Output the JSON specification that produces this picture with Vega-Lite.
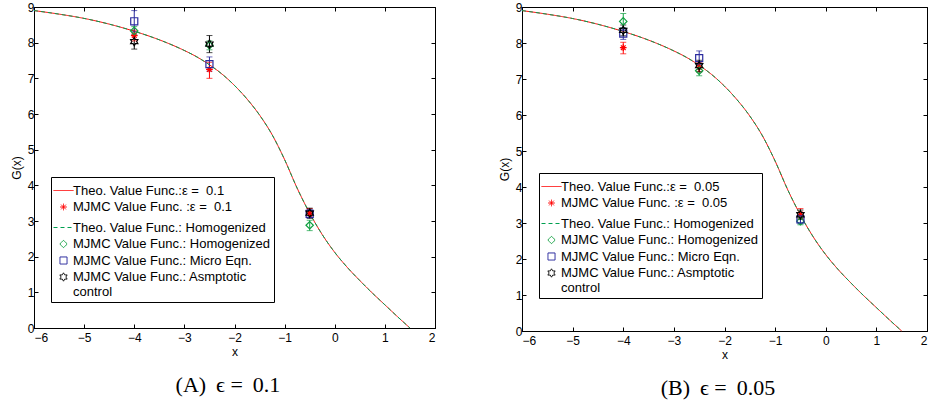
{
  "$schema": "https://vega.github.io/schema/vega-lite/v6.json",
  "padding": {"left": 9, "top": 0, "right": 0, "bottom": 0},
  "background": "white",
  "config": {
    "view": {"stroke": "black", "strokeWidth": 1},
    "font": "Liberation Sans",
    "axis": {"labelFont": "Liberation Sans", "labelFontSize": 12, "titleFont": "Liberation Sans", "titleFontSize": 12, "titleFontWeight": "normal", "domainColor": "black", "tickColor": "black", "labelColor": "black", "titleColor": "black", "grid": false, "tickSize": -4, "labelPadding": 4},
    "legend": {"orient": "none", "fillColor": "white", "strokeColor": "black", "padding": 3, "labelFont": "Liberation Sans", "labelFontSize": 13, "labelColor": "black", "labelLimit": 400, "rowPadding": 2.5, "symbolSize": 64, "symbolOffset": -1, "labelOffset": -1, "symbolStrokeWidth": 1, "symbolFillColor": "transparent"}
  },
  "datasets": {
    "curve": [
      {"x": -6, "G": 8.9}, {"x": -5.5, "G": 8.8}, {"x": -5, "G": 8.68}, {"x": -4.5, "G": 8.52}, {"x": -4, "G": 8.32},
      {"x": -3.5, "G": 8.08}, {"x": -3, "G": 7.78}, {"x": -2.75, "G": 7.6}, {"x": -2.5, "G": 7.38}, {"x": -2.25, "G": 7.12},
      {"x": -2, "G": 6.8}, {"x": -1.75, "G": 6.42}, {"x": -1.5, "G": 5.97}, {"x": -1.25, "G": 5.42}, {"x": -1, "G": 4.72},
      {"x": -0.75, "G": 3.92}, {"x": -0.5, "G": 3.22}, {"x": -0.25, "G": 2.62}, {"x": 0, "G": 2.12}, {"x": 0.25, "G": 1.7},
      {"x": 0.5, "G": 1.33}, {"x": 0.75, "G": 0.98}, {"x": 1, "G": 0.65}, {"x": 1.25, "G": 0.32}, {"x": 1.5, "G": 0}
    ],
    "ptsA": [
      {"series": "MJMC Value Func. :ε =\u00a0 0.1", "x": -4, "y": 8.2, "lo": 8.05, "hi": 8.35},
      {"series": "MJMC Value Func. :ε =\u00a0 0.1", "x": -2.5, "y": 7.25, "lo": 7.0, "hi": 7.45},
      {"series": "MJMC Value Func. :ε =\u00a0 0.1", "x": -0.5, "y": 3.22, "lo": 3.1, "hi": 3.35},
      {"series": "MJMC Value Func.: Homogenized", "x": -4, "y": 8.33, "lo": 8.2, "hi": 8.45},
      {"series": "MJMC Value Func.: Homogenized", "x": -2.5, "y": 7.93, "lo": 7.8, "hi": 8.05},
      {"series": "MJMC Value Func.: Homogenized", "x": -0.5, "y": 2.88, "lo": 2.73, "hi": 3.02},
      {"series": "MJMC Value Func.: Micro Eqn.", "x": -4, "y": 8.6, "lo": 8.3, "hi": 8.9},
      {"series": "MJMC Value Func.: Micro Eqn.", "x": -2.5, "y": 7.4, "lo": 7.2, "hi": 7.6},
      {"series": "MJMC Value Func.: Micro Eqn.", "x": -0.5, "y": 3.2, "lo": 3.08, "hi": 3.32},
      {"series": "MJMC Value Func.: Asmptotic control", "x": -4, "y": 8.03, "lo": 7.82, "hi": 8.22},
      {"series": "MJMC Value Func.: Asmptotic control", "x": -2.5, "y": 7.96, "lo": 7.72, "hi": 8.2},
      {"series": "MJMC Value Func.: Asmptotic control", "x": -0.5, "y": 3.22, "lo": 3.08, "hi": 3.36}
    ],
    "ptsB": [
      {"series": "MJMC Value Func. :ε =\u00a0 0.05", "x": -4, "y": 7.87, "lo": 7.7, "hi": 8.02},
      {"series": "MJMC Value Func. :ε =\u00a0 0.05", "x": -2.5, "y": 7.32, "lo": 7.2, "hi": 7.45},
      {"series": "MJMC Value Func. :ε =\u00a0 0.05", "x": -0.5, "y": 3.25, "lo": 3.12, "hi": 3.4},
      {"series": "MJMC Value Func.: Homogenized", "x": -4, "y": 8.6, "lo": 8.42, "hi": 8.82},
      {"series": "MJMC Value Func.: Homogenized", "x": -2.5, "y": 7.23, "lo": 7.09, "hi": 7.37},
      {"series": "MJMC Value Func.: Homogenized", "x": -0.5, "y": 3.05, "lo": 2.95, "hi": 3.15},
      {"series": "MJMC Value Func.: Micro Eqn.", "x": -4, "y": 8.26, "lo": 8.1, "hi": 8.42},
      {"series": "MJMC Value Func.: Micro Eqn.", "x": -2.5, "y": 7.58, "lo": 7.4, "hi": 7.78},
      {"series": "MJMC Value Func.: Micro Eqn.", "x": -0.5, "y": 3.1, "lo": 2.98, "hi": 3.22},
      {"series": "MJMC Value Func.: Asmptotic control", "x": -4, "y": 8.35, "lo": 8.2, "hi": 8.5},
      {"series": "MJMC Value Func.: Asmptotic control", "x": -2.5, "y": 7.37, "lo": 7.2, "hi": 7.52},
      {"series": "MJMC Value Func.: Asmptotic control", "x": -0.5, "y": 3.23, "lo": 3.1, "hi": 3.36}
    ]
  },
  "bounds": "flush",
  "spacing": 87,
  "resolve": {
    "scale": {"color": "independent", "shape": "independent", "size": "independent", "strokeDash": "independent"},
    "legend": {"color": "independent", "shape": "independent", "size": "independent", "strokeDash": "independent"}
  },
  "hconcat": [
    {
      "width": 401,
      "height": 321,
      "title": {"text": "(A) \u2009ϵ = \u20090.1", "orient": "bottom", "anchor": "middle", "frame": "bounds", "font": "Liberation Serif", "fontSize": 22, "fontWeight": "normal", "color": "black", "offset": 18, "dx": 5},
      "resolve": {"axis": {"x": "independent", "y": "independent"}},
      "layer": [
        {
          "data": {"name": "curve"},
          "mark": {"type": "line", "strokeWidth": 1, "interpolate": "monotone"},
          "encoding": {
            "x": {"field": "x", "type": "quantitative", "scale": {"domain": [-6, 2], "nice": false, "zero": false}, "axis": {"values": [-6, -5, -4, -3, -2, -1, 0, 1, 2], "title": "x", "titlePadding": 3, "labelPadding": 8}},
            "y": {"field": "G", "type": "quantitative", "scale": {"domain": [0, 9], "nice": false, "zero": false}, "axis": {"values": [0, 1, 2, 3, 4, 5, 6, 7, 8, 9], "title": "G(x)", "titlePadding": 4}},
            "color": {"datum": "Theo. Value Func.:ε =\u00a0 0.1", "type": "nominal", "title": null,
              "scale": {"domain": ["Theo. Value Func.:ε =\u00a0 0.1", "MJMC Value Func. :ε =\u00a0 0.1", "Theo. Value Func.: Homogenized", "MJMC Value Func.: Homogenized", "MJMC Value Func.: Micro Eqn.", "MJMC Value Func.: Asmptotic control"], "range": ["#ff0000", "#ff0000", "#00a050", "#10a040", "#2b2b9e", "#000000"]},
              "legend": {"legendX": 17, "legendY": 170,
                "labelExpr": "indexof(datum.label,'Asmptotic') >= 0 ? ['MJMC Value Func.: Asmptotic', 'control'] : datum.label",
                "encode": {"symbols": {"update": {
                  "shape": {"signal": "datum.index == 1 ? 'M-1,0L1,0M0,-1L0,1M-0.7,-0.7L0.7,0.7M-0.7,0.7L0.7,-0.7' : datum.index == 3 ? 'diamond' : datum.index == 4 ? 'square' : datum.index == 5 ? 'M0,-1L0.289,-0.5L0.866,-0.5L0.577,0L0.866,0.5L0.289,0.5L0,1L-0.289,0.5L-0.866,0.5L-0.577,0L-0.866,-0.5L-0.289,-0.5Z' : 'M-2.2,0L2.2,0'"},
                  "size": {"signal": "datum.index == 0 || datum.index == 2 ? 60 : datum.index == 5 ? 50 : 40"},
                  "strokeDash": {"signal": "datum.index == 2 ? [3, 2] : [1, 0]"},
                  "stroke": {"signal": "datum.index <= 1 ? '#ff0000' : datum.index <= 3 ? '#00a050' : datum.index == 4 ? '#2b2b9e' : '#000000'"},
                  "fill": {"value": "transparent"},
                  "fillOpacity": {"value": 0},
                  "strokeWidth": {"value": 1}
                }}}}},
            "strokeDash": {"datum": "Theo. Value Func.:ε =\u00a0 0.1", "type": "nominal", "legend": null,
              "scale": {"domain": ["Theo. Value Func.:ε =\u00a0 0.1", "MJMC Value Func. :ε =\u00a0 0.1", "Theo. Value Func.: Homogenized", "MJMC Value Func.: Homogenized", "MJMC Value Func.: Micro Eqn.", "MJMC Value Func.: Asmptotic control"], "range": [[1, 0], [1, 0], [4, 3], [1, 0], [1, 0], [1, 0]]}}
          }
        },
        {
          "data": {"name": "curve"},
          "mark": {"type": "line", "strokeWidth": 1, "interpolate": "monotone"},
          "encoding": {
            "x": {"field": "x", "type": "quantitative", "axis": null},
            "y": {"field": "G", "type": "quantitative", "axis": null},
            "color": {"datum": "Theo. Value Func.: Homogenized", "type": "nominal", "title": null},
            "strokeDash": {"datum": "Theo. Value Func.: Homogenized", "type": "nominal", "legend": null}
          }
        },
        {
          "data": {"name": "ptsA"},
          "mark": {"type": "rule", "strokeWidth": 1},
          "encoding": {
            "x": {"field": "x", "type": "quantitative", "axis": null},
            "y": {"field": "lo", "type": "quantitative", "axis": null},
            "y2": {"field": "hi"},
            "color": {"field": "series", "type": "nominal", "title": null}
          }
        },
        {
          "data": {"name": "ptsA"},
          "mark": {"type": "tick", "orient": "horizontal", "size": 6, "thickness": 1},
          "encoding": {
            "x": {"field": "x", "type": "quantitative", "axis": null},
            "y": {"field": "lo", "type": "quantitative", "axis": null},
            "color": {"field": "series", "type": "nominal", "title": null}
          }
        },
        {
          "data": {"name": "ptsA"},
          "mark": {"type": "tick", "orient": "horizontal", "size": 6, "thickness": 1},
          "encoding": {
            "x": {"field": "x", "type": "quantitative", "axis": null},
            "y": {"field": "hi", "type": "quantitative", "axis": null},
            "color": {"field": "series", "type": "nominal", "title": null}
          }
        },
        {
          "data": {"name": "ptsA"},
          "mark": {"type": "point", "filled": false, "strokeWidth": 1.2, "opacity": 1},
          "encoding": {
            "x": {"field": "x", "type": "quantitative", "axis": null},
            "y": {"field": "y", "type": "quantitative", "axis": null},
            "color": {"field": "series", "type": "nominal", "title": null},
            "shape": {"field": "series", "type": "nominal", "legend": null,
              "scale": {"domain": ["Theo. Value Func.:ε =\u00a0 0.1", "MJMC Value Func. :ε =\u00a0 0.1", "Theo. Value Func.: Homogenized", "MJMC Value Func.: Homogenized", "MJMC Value Func.: Micro Eqn.", "MJMC Value Func.: Asmptotic control"], "range": ["stroke", "M-1,0L1,0M0,-1L0,1M-0.7,-0.7L0.7,0.7M-0.7,0.7L0.7,-0.7", "stroke", "diamond", "square", "M0,-1L0.289,-0.5L0.866,-0.5L0.577,0L0.866,0.5L0.289,0.5L0,1L-0.289,0.5L-0.866,0.5L-0.577,0L-0.866,-0.5L-0.289,-0.5Z"]}},
            "size": {"field": "series", "type": "nominal", "legend": null,
              "scale": {"type": "ordinal", "domain": ["Theo. Value Func.:ε =\u00a0 0.1", "MJMC Value Func. :ε =\u00a0 0.1", "Theo. Value Func.: Homogenized", "MJMC Value Func.: Homogenized", "MJMC Value Func.: Micro Eqn.", "MJMC Value Func.: Asmptotic control"], "range": [400, 45, 400, 55, 50, 70]}}
          }
        },
        {
          "data": {"name": "curve"},
          "mark": {"type": "point", "opacity": 0},
          "encoding": {
            "x": {"field": "x", "type": "quantitative", "axis": {"orient": "top", "values": [-6, -5, -4, -3, -2, -1, 0, 1, 2], "labels": false, "title": null, "domain": false}},
            "y": {"field": "G", "type": "quantitative", "axis": {"orient": "right", "values": [0, 1, 2, 3, 4, 5, 6, 7, 8, 9], "labels": false, "title": null, "domain": false}}
          }
        }
      ]
    },
    {
      "width": 405,
      "height": 324,
      "title": {"text": "(B) \u2009ϵ = \u20090.05", "orient": "bottom", "anchor": "middle", "frame": "bounds", "font": "Liberation Serif", "fontSize": 22, "fontWeight": "normal", "color": "black", "offset": 18, "dx": 5},
      "resolve": {"axis": {"x": "independent", "y": "independent"}},
      "layer": [
        {
          "data": {"name": "curve"},
          "mark": {"type": "line", "strokeWidth": 1, "interpolate": "monotone"},
          "encoding": {
            "x": {"field": "x", "type": "quantitative", "scale": {"domain": [-6, 2], "nice": false, "zero": false}, "axis": {"values": [-6, -5, -4, -3, -2, -1, 0, 1, 2], "title": "x", "titlePadding": 3, "labelPadding": 8}},
            "y": {"field": "G", "type": "quantitative", "scale": {"domain": [0, 9], "nice": false, "zero": false}, "axis": {"values": [0, 1, 2, 3, 4, 5, 6, 7, 8, 9], "title": "G(x)", "titlePadding": 4}},
            "color": {"datum": "Theo. Value Func.:ε =\u00a0 0.05", "type": "nominal", "title": null,
              "scale": {"domain": ["Theo. Value Func.:ε =\u00a0 0.05", "MJMC Value Func. :ε =\u00a0 0.05", "Theo. Value Func.: Homogenized", "MJMC Value Func.: Homogenized", "MJMC Value Func.: Micro Eqn.", "MJMC Value Func.: Asmptotic control"], "range": ["#ff0000", "#ff0000", "#00a050", "#10a040", "#2b2b9e", "#000000"]},
              "legend": {"legendX": 17, "legendY": 166,
                "labelExpr": "indexof(datum.label,'Asmptotic') >= 0 ? ['MJMC Value Func.: Asmptotic', 'control'] : datum.label",
                "encode": {"symbols": {"update": {
                  "shape": {"signal": "datum.index == 1 ? 'M-1,0L1,0M0,-1L0,1M-0.7,-0.7L0.7,0.7M-0.7,0.7L0.7,-0.7' : datum.index == 3 ? 'diamond' : datum.index == 4 ? 'square' : datum.index == 5 ? 'M0,-1L0.289,-0.5L0.866,-0.5L0.577,0L0.866,0.5L0.289,0.5L0,1L-0.289,0.5L-0.866,0.5L-0.577,0L-0.866,-0.5L-0.289,-0.5Z' : 'M-2.2,0L2.2,0'"},
                  "size": {"signal": "datum.index == 0 || datum.index == 2 ? 60 : datum.index == 5 ? 50 : 40"},
                  "strokeDash": {"signal": "datum.index == 2 ? [3, 2] : [1, 0]"},
                  "stroke": {"signal": "datum.index <= 1 ? '#ff0000' : datum.index <= 3 ? '#00a050' : datum.index == 4 ? '#2b2b9e' : '#000000'"},
                  "fill": {"value": "transparent"},
                  "fillOpacity": {"value": 0},
                  "strokeWidth": {"value": 1}
                }}}}},
            "strokeDash": {"datum": "Theo. Value Func.:ε =\u00a0 0.05", "type": "nominal", "legend": null,
              "scale": {"domain": ["Theo. Value Func.:ε =\u00a0 0.05", "MJMC Value Func. :ε =\u00a0 0.05", "Theo. Value Func.: Homogenized", "MJMC Value Func.: Homogenized", "MJMC Value Func.: Micro Eqn.", "MJMC Value Func.: Asmptotic control"], "range": [[1, 0], [1, 0], [4, 3], [1, 0], [1, 0], [1, 0]]}}
          }
        },
        {
          "data": {"name": "curve"},
          "mark": {"type": "line", "strokeWidth": 1, "interpolate": "monotone"},
          "encoding": {
            "x": {"field": "x", "type": "quantitative", "axis": null},
            "y": {"field": "G", "type": "quantitative", "axis": null},
            "color": {"datum": "Theo. Value Func.: Homogenized", "type": "nominal", "title": null},
            "strokeDash": {"datum": "Theo. Value Func.: Homogenized", "type": "nominal", "legend": null}
          }
        },
        {
          "data": {"name": "ptsB"},
          "mark": {"type": "rule", "strokeWidth": 1},
          "encoding": {
            "x": {"field": "x", "type": "quantitative", "axis": null},
            "y": {"field": "lo", "type": "quantitative", "axis": null},
            "y2": {"field": "hi"},
            "color": {"field": "series", "type": "nominal", "title": null}
          }
        },
        {
          "data": {"name": "ptsB"},
          "mark": {"type": "tick", "orient": "horizontal", "size": 6, "thickness": 1},
          "encoding": {
            "x": {"field": "x", "type": "quantitative", "axis": null},
            "y": {"field": "lo", "type": "quantitative", "axis": null},
            "color": {"field": "series", "type": "nominal", "title": null}
          }
        },
        {
          "data": {"name": "ptsB"},
          "mark": {"type": "tick", "orient": "horizontal", "size": 6, "thickness": 1},
          "encoding": {
            "x": {"field": "x", "type": "quantitative", "axis": null},
            "y": {"field": "hi", "type": "quantitative", "axis": null},
            "color": {"field": "series", "type": "nominal", "title": null}
          }
        },
        {
          "data": {"name": "ptsB"},
          "mark": {"type": "point", "filled": false, "strokeWidth": 1.2, "opacity": 1},
          "encoding": {
            "x": {"field": "x", "type": "quantitative", "axis": null},
            "y": {"field": "y", "type": "quantitative", "axis": null},
            "color": {"field": "series", "type": "nominal", "title": null},
            "shape": {"field": "series", "type": "nominal", "legend": null,
              "scale": {"domain": ["Theo. Value Func.:ε =\u00a0 0.05", "MJMC Value Func. :ε =\u00a0 0.05", "Theo. Value Func.: Homogenized", "MJMC Value Func.: Homogenized", "MJMC Value Func.: Micro Eqn.", "MJMC Value Func.: Asmptotic control"], "range": ["stroke", "M-1,0L1,0M0,-1L0,1M-0.7,-0.7L0.7,0.7M-0.7,0.7L0.7,-0.7", "stroke", "diamond", "square", "M0,-1L0.289,-0.5L0.866,-0.5L0.577,0L0.866,0.5L0.289,0.5L0,1L-0.289,0.5L-0.866,0.5L-0.577,0L-0.866,-0.5L-0.289,-0.5Z"]}},
            "size": {"field": "series", "type": "nominal", "legend": null,
              "scale": {"type": "ordinal", "domain": ["Theo. Value Func.:ε =\u00a0 0.05", "MJMC Value Func. :ε =\u00a0 0.05", "Theo. Value Func.: Homogenized", "MJMC Value Func.: Homogenized", "MJMC Value Func.: Micro Eqn.", "MJMC Value Func.: Asmptotic control"], "range": [400, 45, 400, 55, 50, 70]}}
          }
        },
        {
          "data": {"name": "curve"},
          "mark": {"type": "point", "opacity": 0},
          "encoding": {
            "x": {"field": "x", "type": "quantitative", "axis": {"orient": "top", "values": [-6, -5, -4, -3, -2, -1, 0, 1, 2], "labels": false, "title": null, "domain": false}},
            "y": {"field": "G", "type": "quantitative", "axis": {"orient": "right", "values": [0, 1, 2, 3, 4, 5, 6, 7, 8, 9], "labels": false, "title": null, "domain": false}}
          }
        }
      ]
    }
  ]
}
